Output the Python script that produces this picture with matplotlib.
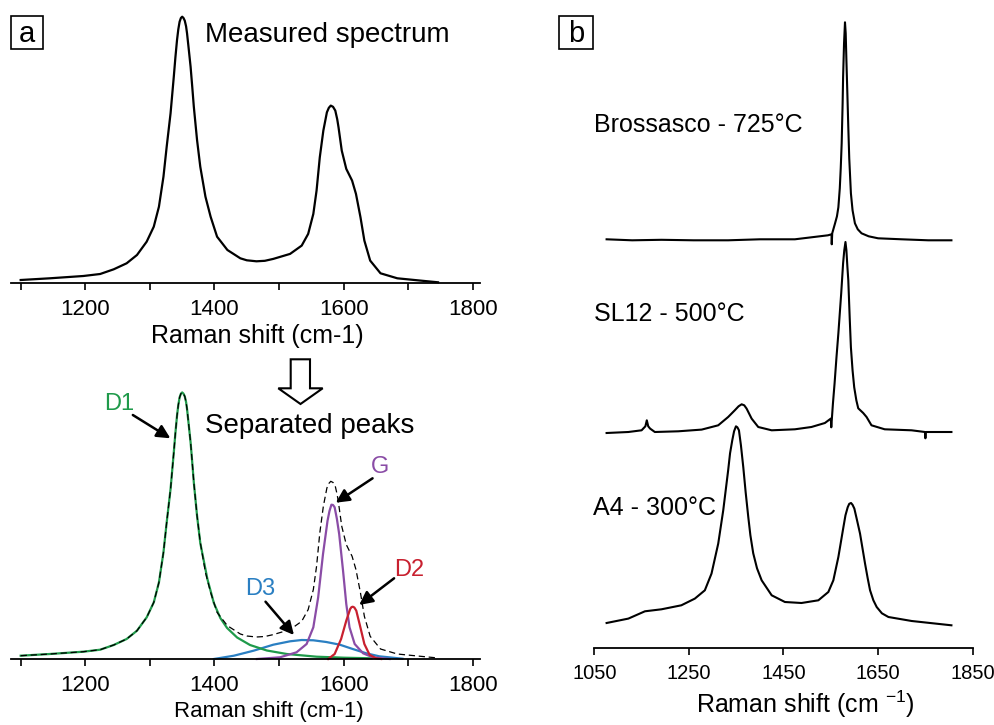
import matplotlib
matplotlib.use("Agg")
import matplotlib.pyplot as plt
from matplotlib.patches import Rectangle, Polygon

plt.rcParams['font.family'] = ['Liberation Sans', 'DejaVu Sans']
plt.rcParams['mathtext.fontset'] = 'custom'
plt.rcParams['mathtext.rm'] = 'Liberation Sans'
plt.rcParams['mathtext.it'] = 'Liberation Sans:italic'

# ---------------- data ----------------
# panel a: measured spectrum (Raman shift, intensity in arbitrary units)
meas_x = [1100, 1145, 1197, 1223, 1244, 1264, 1280, 1295, 1306, 1314, 1321, 1326,
          1332, 1337, 1339.5, 1342, 1344, 1346, 1348, 1350, 1352, 1354, 1356, 1357.5,
          1360, 1363, 1365.5, 1368, 1373, 1378, 1386, 1394, 1404, 1420, 1440, 1450,
          1465, 1478, 1491, 1517, 1535, 1545, 1553, 1558, 1563, 1568.5, 1574, 1577,
          1580, 1583.5, 1587, 1590, 1592, 1597, 1604, 1613, 1619, 1626, 1632, 1641,
          1657, 1683, 1719, 1746]
meas_y = [3.3, 5, 7.3, 9.3, 14, 20, 28.3, 41.6, 56.6, 76.6, 106.6, 136.6,
          170, 206.6, 226, 243.3, 254, 261.6, 265.3, 266.6, 265.3, 262.6, 257, 250,
          235, 216.6, 197, 176.6, 143.3, 116.6, 86.6, 66.6, 46.6, 33.3, 25, 23,
          22, 22.5, 24.4, 29.4, 37.7, 49.4, 69.4, 92.7, 126, 152.7, 171, 175.5,
          177.7, 176.5, 172.7, 164, 156, 132.7, 114.4, 102.7, 89.4, 66, 42.7, 22.7,
          10, 5, 2.7, 1]

# panel a: separated peaks
d1_x = [1100, 1145, 1197, 1223, 1244, 1264, 1280, 1295, 1306, 1314, 1321, 1326,
        1332, 1337, 1339.5, 1342, 1344, 1346, 1348, 1350, 1352, 1354, 1356, 1357.5,
        1360, 1363, 1365.5, 1368, 1373, 1378, 1389, 1399, 1409, 1419.5, 1435, 1455,
        1481, 1512, 1558, 1600, 1643]
d1_y = [3.3, 5, 7.3, 9.3, 14, 20, 28.3, 41.6, 56.6, 76.6, 106.6, 136.6,
        170, 206.6, 226, 243.3, 254, 261.6, 265.3, 266.6, 265.3, 262.6, 257, 250,
        235, 216.6, 197, 176.6, 143.3, 116, 80, 56, 41, 31, 21.5, 14,
        8.5, 5, 2.3, 1.3, 0.7]

g_x = [1465.6, 1501.5, 1527, 1542.6, 1553, 1560.5, 1568, 1575, 1578, 1581, 1583.5,
       1586, 1589.5, 1593, 1599, 1604, 1609, 1617, 1630, 1645, 1671]
g_y = [0, 1.7, 6.7, 15, 31.7, 61.7, 105, 138.3, 148, 154.3, 154,
       151.7, 140, 125, 88.3, 55, 31.7, 15, 5.7, 1.7, 0]

d2_x = [1576, 1586, 1596, 1604, 1610, 1612, 1614, 1616.5, 1619.5, 1624.6, 1632, 1640,
        1650, 1658]
d2_y = [0, 5, 20, 38.3, 50, 51.8, 52.3, 51.5, 48.3, 35, 15, 4.3,
        0.7, 0]

d3_x = [1399, 1430, 1460.5, 1491, 1517, 1535, 1553, 1573, 1594, 1614, 1635, 1655, 1691]
d3_y = [0, 3.3, 8.3, 14.3, 17.7, 19, 18.7, 17, 14.3, 10, 5.7, 2.7, 0.3]

# panel b: stacked spectra (offset already included)
bro_x = [1076, 1130, 1192, 1260, 1333, 1400, 1474, 1509, 1544, 1551.5, 1552, 1553,
         1559, 1563, 1566, 1569, 1571, 1573, 1575, 1576, 1578, 1580, 1581.5, 1583,
         1585, 1587, 1589, 1592.5, 1596, 1601, 1607, 1615, 1630, 1650, 1700, 1756,
         1805]
bro_y = [409, 408, 408.5, 408, 408, 409, 409, 411, 413, 414, 404, 415,
         425, 432, 441, 460, 480, 505, 545, 571, 605, 626, 615, 588,
         555, 521, 490, 455, 438, 425, 419, 415, 412, 410, 409, 408,
         408]

sl_x = [1076, 1122, 1150, 1158, 1161, 1164, 1168, 1178, 1227.5, 1277, 1312, 1333,
        1347, 1355, 1361.5, 1367, 1372, 1382.6, 1396.6, 1425, 1474, 1509, 1537.5,
        1550, 1551, 1554.5, 1558, 1562, 1566, 1569, 1572, 1576, 1578.5, 1581, 1583,
        1585, 1587, 1590, 1592.5, 1596, 1599.5, 1604, 1608, 1618.5, 1625.6, 1636,
        1664, 1720.8, 1749, 1750, 1751, 1805]
sl_y = [215.3, 216.3, 218, 222, 228, 222, 219.7, 216.3, 217, 218.7, 223, 231.3,
        238, 242, 244, 243, 239.7, 229.7, 221.3, 218, 219, 221.3, 225.3,
        229.7, 221, 244.7, 265, 291, 315, 335, 355, 385, 398, 406.3, 398,
        382, 368, 330, 301, 278, 261, 248, 240, 235.3, 231.3, 223,
        219, 218, 216.3, 210, 216.3, 216.3]

a4_x = [1076, 1122, 1157, 1192, 1234, 1262.6, 1283.7, 1297.8, 1312, 1322.6, 1333,
        1337, 1341.7, 1345.5, 1349.5, 1352.5, 1355.8, 1360, 1365, 1370, 1375.6, 1380,
        1386, 1394, 1403.8, 1425, 1453, 1488, 1523.7, 1544.8, 1555.4, 1566, 1576.6,
        1581, 1585.7, 1589, 1592.8, 1596, 1599.8, 1605, 1611.8, 1617, 1622.4, 1628,
        1633, 1640, 1647, 1658, 1671.8, 1721, 1805]
a4_y = [25.3, 29.7, 37, 39, 43, 49.7, 58, 74.7, 104.7, 138, 178,
        195, 208, 217, 222, 221, 218, 203, 181, 156, 131, 113,
        95, 80, 68, 53, 46.3, 45.3, 48, 56.3, 68, 91.3, 121,
        133, 141, 144.5, 145.3, 143.5, 139.7, 129, 114.7, 100, 84.7, 70,
        58, 48, 41.3, 35, 31.3, 27.3, 23]

sample_labels = ['Brossasco - 725°C', 'SL12 - 500°C', 'A4 - 300°C']

a_ticks = [1200, 1400, 1600, 1800]
a_minor = [1100, 1300, 1500, 1700]
b_ticks = [1050, 1250, 1450, 1650, 1850]

# ---------------- colours ----------------
GREEN = '#1f9a4a'
PURPLE = '#8a4ca6'
RED = '#c8202f'
BLUE = '#2a7fc2'

W, H = 995, 725
fig = plt.figure(figsize=(W / 100, H / 100), dpi=100)


def fx(px):
    return px / W


def fy(py):
    return 1 - py / H


def px_axes(left, top, right, bottom):
    return fig.add_axes([left / W, 1 - bottom / H, (right - left) / W, (bottom - top) / H])


def style_axis(ax, labelsize=16):
    for s in ['top', 'left', 'right']:
        ax.spines[s].set_visible(False)
    ax.spines['bottom'].set_linewidth(1.3)
    ax.set_yticks([])
    ax.tick_params(axis='x', which='both', direction='out', length=5, width=1.2,
                   labelsize=labelsize, pad=6.5)
    ax.patch.set_alpha(0)


LW = 1.6

# ---- panel a, top ----
ax1 = px_axes(11, 10, 480, 283.3)
style_axis(ax1)
ax1.set_xlim(1085, 1811)
ax1.set_ylim(0, 273.3)
ax1.set_xticks(a_ticks)
ax1.set_xticks(a_minor, minor=True)
ax1.plot(meas_x, meas_y, color='black', lw=LW, clip_on=False)
ax1.set_xlabel('Raman shift (cm-1)', fontsize=18, va='baseline')
ax1.xaxis.set_label_coords((257.5 - 11) / 469, -(342.7 - 283.3) / 273.3)

# ---- panel a, bottom ----
ax2 = px_axes(11, 380, 480, 659)
style_axis(ax2)
ax2.set_xlim(1085, 1811)
ax2.set_ylim(0, 279)
ax2.set_xticks(a_ticks)
ax2.set_xticks(a_minor, minor=True)
ax2.plot(d3_x, d3_y, color=BLUE, lw=LW, clip_on=False)
ax2.plot(d1_x, d1_y, color=GREEN, lw=LW, clip_on=False)
ax2.plot(g_x, g_y, color=PURPLE, lw=LW, clip_on=False)
ax2.plot(d2_x, d2_y, color=RED, lw=LW, clip_on=False)
ax2.plot(meas_x, meas_y, color='black', lw=0.9, ls=(0, (5, 3)), clip_on=False)
ax2.set_xlabel('Raman shift (cm-1)', fontsize=16, va='baseline')
ax2.xaxis.set_label_coords((269 - 11) / 469, -(716.7 - 659) / 279)

arrow = dict(arrowstyle='-|>', lw=1.8, color='black', mutation_scale=20,
             shrinkA=0, shrinkB=0)
ax2.text(1252.5, 255, 'D1', color=GREEN, fontsize=17, ha='center', va='center')
ax2.annotate('', xy=(1331.7, 220.7), xytext=(1273.6, 244), arrowprops=arrow)
ax2.text(1656, 192, 'G', color=PURPLE, fontsize=17, ha='center', va='center')
ax2.annotate('', xy=(1587.7, 156.3), xytext=(1644.7, 180.7), arrowprops=arrow)
ax2.text(1701, 89, 'D2', color=RED, fontsize=17, ha='center', va='center')
ax2.annotate('', xy=(1624, 54), xytext=(1678, 80.7), arrowprops=arrow)
ax2.text(1471, 70, 'D3', color=BLUE, fontsize=17, ha='center', va='center')
ax2.annotate('', xy=(1523, 24), xytext=(1479, 57.3), arrowprops=arrow)

# ---- panel b ----
ax3 = px_axes(594.3, 10, 972.7, 648.3)
style_axis(ax3, labelsize=14.5)
ax3.set_xlim(1050, 1850)
ax3.set_ylim(0, 638.3)
ax3.set_xticks(b_ticks)
ax3.plot(bro_x, bro_y, color='black', lw=1.5, clip_on=False)
ax3.plot(sl_x, sl_y, color='black', lw=1.5, clip_on=False)
ax3.plot(a4_x, a4_y, color='black', lw=1.5, clip_on=False)
ax3.set_xlabel('Raman shift (cm $^{-1}$)', fontsize=18, va='baseline')
ax3.xaxis.set_label_coords((805.8 - 594.3) / 378.4, -(713.3 - 648.3) / 638.3)

label_pos = [(594, 131.7), (594, 321), (593.3, 515)]
for txt, (lx, ly) in zip(sample_labels, label_pos):
    fig.text(fx(lx), fy(ly), txt, fontsize=18, va='baseline', ha='left')

# ---- texts and decorations ----
fig.text(fx(205), fy(41.7), 'Measured spectrum', fontsize=20, va='baseline')
fig.text(fx(205), fy(433.3), 'Separated peaks', fontsize=20, va='baseline')

for (bx0, by0, bx1, by1, lab) in [(11, 16, 43, 49, 'a'), (559.3, 16, 592.7, 49.3, 'b')]:
    fig.patches.append(Rectangle((fx(bx0), fy(by1)), (bx1 - bx0) / W, (by1 - by0) / H,
                                 transform=fig.transFigure, fill=False, lw=1.2,
                                 edgecolor='black'))
    fig.text(fx((bx0 + bx1) / 2), fy(42.5), lab, fontsize=21, ha='center', va='baseline')

# hollow down arrow between the two panel-a plots
pts = [(290.7, 359.3), (310, 359.3), (310, 388.3), (322.7, 388.3), (300.5, 404),
       (278.3, 388.3), (290.7, 388.3)]
fig.patches.append(Polygon([(fx(a), fy(b)) for a, b in pts], closed=True,
                           transform=fig.transFigure, facecolor='white',
                           edgecolor='black', lw=1.5))

fig.savefig('out.png', dpi=100)
